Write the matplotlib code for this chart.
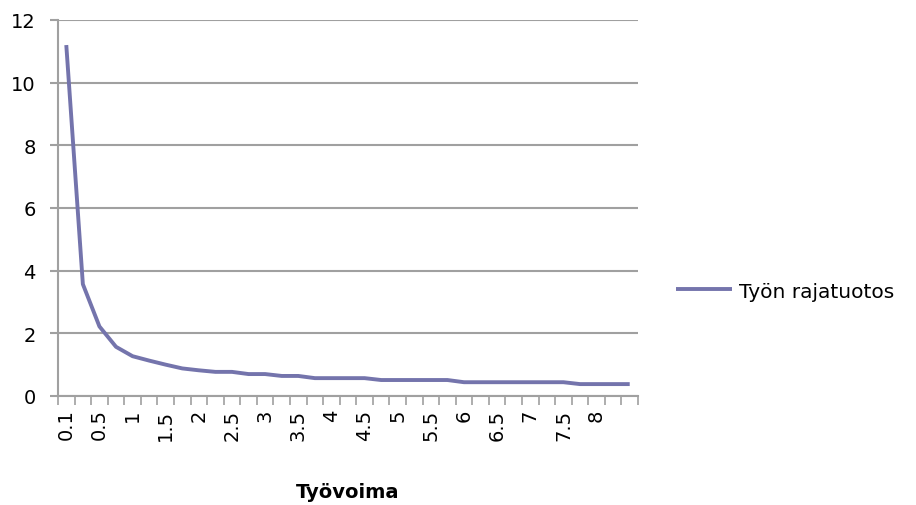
import matplotlib
matplotlib.use("Agg")
import matplotlib.pyplot as plt

# Data
categories = ["0.1", "0.25", "0.5", "0.75", "1", "1.25", "1.5", "1.75", "2", "2.25",
              "2.5", "2.75", "3", "3.25", "3.5", "3.75", "4", "4.25", "4.5", "4.75",
              "5", "5.25", "5.5", "5.75", "6", "6.25", "6.5", "6.75", "7", "7.25",
              "7.5", "7.75", "8", "8.25", "8.5"]
values = [11.2, 3.57, 2.22, 1.57, 1.27, 1.13, 1.0, 0.88, 0.82, 0.77,
          0.77, 0.70, 0.70, 0.64, 0.64, 0.57, 0.57, 0.57, 0.57, 0.51,
          0.51, 0.51, 0.51, 0.51, 0.44, 0.44, 0.44, 0.44, 0.44, 0.44,
          0.44, 0.38, 0.38, 0.38, 0.38]
series_name = "Työn rajatuotos"
x_title = "Työvoima"
y_ticks = [0, 2, 4, 6, 8, 10, 12]

W, H = 916, 506
fig = plt.figure(figsize=(W / 100, H / 100), dpi=100)
L, R, T, B = 58, 638, 21, 397
ax = fig.add_axes([L / W, 1 - B / H, (R - L) / W, (B - T) / H])

grid_c = "#A0A0A0"
line_c = "#7474AC"

xs = list(range(len(categories)))
line, = ax.plot(xs, values, color=line_c, lw=2.8, solid_joinstyle="round",
                solid_capstyle="butt", label=series_name, zorder=3)

ax.set_xlim(-0.5, len(categories) - 0.5)
ax.set_ylim(0, 12)
ax.set_yticks(y_ticks)
ax.set_yticklabels([str(v) for v in y_ticks])
ax.yaxis.grid(True, color=grid_c, lw=1.5)
ax.set_axisbelow(True)

for s in ["top", "right"]:
    ax.spines[s].set_visible(False)
for s in ["left", "bottom"]:
    ax.spines[s].set_color(grid_c)
    ax.spines[s].set_linewidth(1.5)

# category boundary tick marks
bounds = [i - 0.5 for i in range(len(categories) + 1)]
ax.set_xticks(bounds, minor=True)
ax.tick_params(axis="x", which="minor", length=6.5, width=1.2, color=grid_c)
lab_idx = [i for i in range(0, 33, 2)]
ax.set_xticks(lab_idx)
ax.set_xticklabels([categories[i] for i in lab_idx], rotation=90, va="top", ha="center")
ax.tick_params(axis="x", which="major", length=0, pad=9, labelsize=14, labelcolor="#000000")
ax.tick_params(axis="y", length=6, width=1.5, color=grid_c, pad=10, labelsize=14)

fig.text((L + R) / 2 / W, 1 - 493 / H, x_title, ha="center", va="center",
         fontsize=14, fontweight="bold")

fig.legend(handles=[line], labels=[series_name], loc="center left",
           bbox_to_anchor=(676 / W, 1 - 292 / H), frameon=False, fontsize=14.5,
           handlelength=2.8, handletextpad=0.35, borderpad=0, borderaxespad=0)

fig.savefig("out.png", dpi=100)
